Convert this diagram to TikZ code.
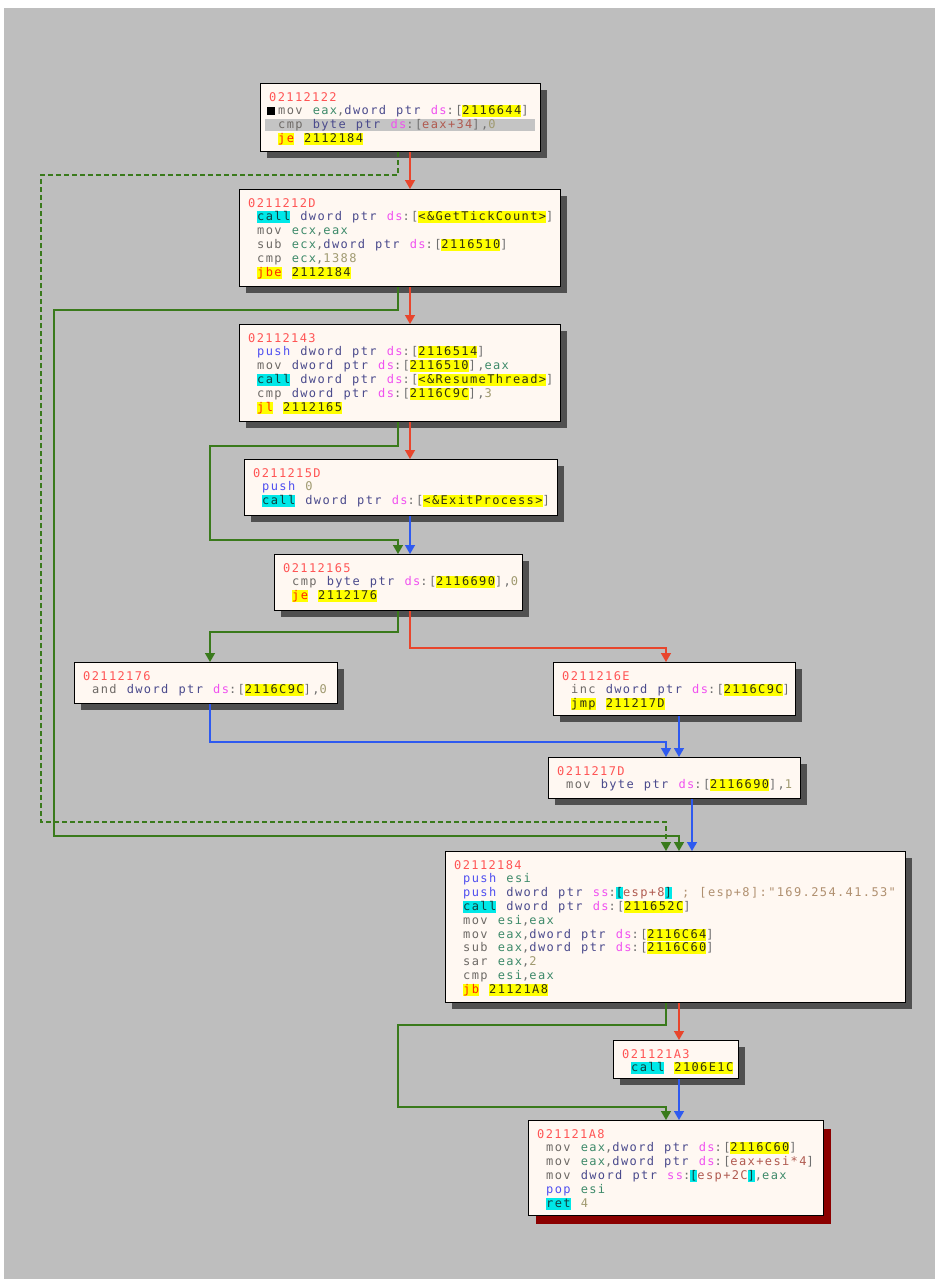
\documentclass[tikz,border=0pt]{standalone}
\usepackage{fontspec}
\usetikzlibrary{arrows.meta,shadows}
\newfontfamily\codefont{DejaVu Sans Mono}[LetterSpace=11.5,WordSpace=1.18]
\definecolor{bg}{HTML}{BEBEBE}
\definecolor{boxfill}{HTML}{FFF8F2}
\definecolor{shadowgray}{HTML}{505050}
\definecolor{shadowred}{HTML}{8B0000}
\definecolor{eRed}{HTML}{E8452C}
\definecolor{eGreen}{HTML}{3A7A1C}
\definecolor{eBlue}{HTML}{2E5AF0}
\definecolor{addr}{HTML}{FF5555}
\definecolor{mn}{HTML}{6E6A66}
\definecolor{pu}{HTML}{5050F0}
\definecolor{rg}{HTML}{3E8A6A}
\definecolor{dp}{HTML}{4A4A8C}
\definecolor{sg}{HTML}{F050F0}
\definecolor{nm}{HTML}{A09A70}
\definecolor{pn}{HTML}{707070}
\definecolor{hx}{HTML}{303010}
\definecolor{yl}{HTML}{FFFF00}
\definecolor{cy}{HTML}{00E8E8}
\definecolor{jr}{HTML}{FF2800}
\definecolor{ct}{HTML}{104040}
\definecolor{me}{HTML}{B05A50}
\definecolor{cm}{HTML}{B09070}
\definecolor{sel}{HTML}{C4C4C4}
\newcommand\zbox[2]{{\setlength{\fboxsep}{0pt}\colorbox{#1}{\rule[-2.5pt]{0pt}{12pt}#2}}}
\newcommand\zA[1]{\textcolor{addr}{#1}}
\newcommand\zM[1]{\textcolor{mn}{#1}}
\newcommand\zP[1]{\textcolor{pu}{#1}}
\newcommand\zR[1]{\textcolor{rg}{#1}}
\newcommand\zD[1]{\textcolor{dp}{#1}}
\newcommand\zS[1]{\textcolor{sg}{#1}}
\newcommand\zN[1]{\textcolor{nm}{#1}}
\newcommand\zB[1]{\textcolor{pn}{#1}}
\newcommand\zE[1]{\textcolor{me}{#1}}
\newcommand\zT[1]{\textcolor{cm}{#1}}
\newcommand\zY[1]{\zbox{yl}{\textcolor{hx}{#1}}}
\newcommand\zJ[1]{\zbox{yl}{\textcolor{jr}{#1}}}
\newcommand\zC[1]{\zbox{cy}{\textcolor{ct}{#1}}}
\newcommand\zline[4]{\node[txt] (#1) at (#2,#3) {#4};}
\tikzset{
  blk/.style={draw=black, line width=1.3pt, fill=boxfill, rectangle, inner sep=0pt, anchor=north west,
    drop shadow={shadow xshift=6pt, shadow yshift=-6pt, fill=shadowgray, opacity=1}},
  blkred/.style={draw=black, line width=1.3pt, fill=boxfill, rectangle, inner sep=0pt, anchor=north west,
    drop shadow={shadow xshift=7pt, shadow yshift=-8pt, fill=shadowred, opacity=1}},
  txt/.style={anchor=base west, inner sep=0pt, font=\codefont\fontsize{12pt}{13.8pt}\selectfont},
  conn/.style={line width=1.4pt, -{Triangle[width=10pt,length=9pt]}},
}
\begin{document}
\begin{tikzpicture}[x=1pt,y=-1pt]
\useasboundingbox (0,0) rectangle (938,1280);
\fill[white] (0,0) rectangle (938,1280);
\fill[bg] (4,8) rectangle (935,1279);
% column coordinates
\coordinate (c41) at (41,0);
\coordinate (c54) at (54,0);
\coordinate (c210) at (210,0);
\coordinate (c398) at (398,0);
\coordinate (c410) at (410,0);
\coordinate (c666) at (666,0);
\coordinate (c679) at (679,0);
\coordinate (c692) at (692,0);
% blocks
\node[blk, minimum width=280pt, minimum height=68pt] (b1) at (260,83) {};
\node[blk, minimum width=321pt, minimum height=97pt] (b2) at (239,189) {};
\node[blk, minimum width=321pt, minimum height=97pt] (b3) at (239,324) {};
\node[blk, minimum width=313pt, minimum height=56pt] (b4) at (244,459) {};
\node[blk, minimum width=248pt, minimum height=56pt] (b5) at (274,554) {};
\node[blk, minimum width=263pt, minimum height=41pt] (b6) at (74,662) {};
\node[blk, minimum width=242pt, minimum height=53pt] (b7) at (553,662) {};
\node[blk, minimum width=252pt, minimum height=41pt] (b8) at (548,757) {};
\node[blk, minimum width=460pt, minimum height=151pt] (b9) at (445,851) {};
\node[blk, minimum width=125pt, minimum height=38pt] (b10) at (613,1040) {};
\node[blkred, minimum width=295pt, minimum height=95pt] (b11) at (528,1120) {};
% selection in block 1
\fill[sel] (265,119) rectangle (535,131);
\fill[black] (267,107) rectangle (275,115);
% block 1
\zline{t1a}{269}{101}{\zA{02112122}}
\zline{t1b}{278}{114.8}{\zM{mov} \zR{eax}\zB{,}\zD{dword ptr} \zS{ds}\zB{:[}\zY{2116644}\zB{]}}
\zline{t1c}{278}{128.6}{\zM{cmp} \zD{byte ptr} \zS{ds}\zB{:[}\zE{eax+34}\zB{],}\zN{0}}
\zline{t1d}{278}{142.4}{\zJ{je} \zY{2112184}}
% block 2
\zline{t2a}{248}{207}{\zA{0211212D}}
\zline{t2b}{257}{220.8}{\zC{call} \zD{dword ptr} \zS{ds}\zB{:[}\zY{<\&GetTickCount>}\zB{]}}
\zline{t2c}{257}{234.6}{\zM{mov} \zR{ecx}\zB{,}\zR{eax}}
\zline{t2d}{257}{248.4}{\zM{sub} \zR{ecx}\zB{,}\zD{dword ptr} \zS{ds}\zB{:[}\zY{2116510}\zB{]}}
\zline{t2e}{257}{262.2}{\zM{cmp} \zR{ecx}\zB{,}\zN{1388}}
\zline{t2f}{257}{276}{\zJ{jbe} \zY{2112184}}
% block 3
\zline{t3a}{248}{342}{\zA{02112143}}
\zline{t3b}{257}{355.8}{\zP{push} \zD{dword ptr} \zS{ds}\zB{:[}\zY{2116514}\zB{]}}
\zline{t3c}{257}{369.6}{\zM{mov} \zD{dword ptr} \zS{ds}\zB{:[}\zY{2116510}\zB{],}\zR{eax}}
\zline{t3d}{257}{383.4}{\zC{call} \zD{dword ptr} \zS{ds}\zB{:[}\zY{<\&ResumeThread>}\zB{]}}
\zline{t3e}{257}{397.2}{\zM{cmp} \zD{dword ptr} \zS{ds}\zB{:[}\zY{2116C9C}\zB{],}\zN{3}}
\zline{t3f}{257}{411}{\zJ{jl} \zY{2112165}}
% block 4
\zline{t4a}{253}{477}{\zA{0211215D}}
\zline{t4b}{262}{490.8}{\zP{push} \zN{0}}
\zline{t4c}{262}{504.6}{\zC{call} \zD{dword ptr} \zS{ds}\zB{:[}\zY{<\&ExitProcess>}\zB{]}}
% block 5
\zline{t5a}{283}{572}{\zA{02112165}}
\zline{t5b}{292}{585.8}{\zM{cmp} \zD{byte ptr} \zS{ds}\zB{:[}\zY{2116690}\zB{],}\zN{0}}
\zline{t5c}{292}{599.6}{\zJ{je} \zY{2112176}}
% block 6
\zline{t6a}{83}{680}{\zA{02112176}}
\zline{t6b}{92}{693.8}{\zM{and} \zD{dword ptr} \zS{ds}\zB{:[}\zY{2116C9C}\zB{],}\zN{0}}
% block 7
\zline{t7a}{562}{680}{\zA{0211216E}}
\zline{t7b}{571}{693.8}{\zM{inc} \zD{dword ptr} \zS{ds}\zB{:[}\zY{2116C9C}\zB{]}}
\zline{t7c}{571}{707.6}{\zY{jmp} \zY{211217D}}
% block 8
\zline{t8a}{557}{775}{\zA{0211217D}}
\zline{t8b}{566}{788.8}{\zM{mov} \zD{byte ptr} \zS{ds}\zB{:[}\zY{2116690}\zB{],}\zN{1}}
% block 9
\zline{t9a}{454}{869}{\zA{02112184}}
\zline{t9b}{463}{882.8}{\zP{push} \zR{esi}}
\zline{t9c}{463}{896.6}{\zP{push} \zD{dword ptr} \zS{ss}\zB{:}\zC{[}\zE{esp+8}\zC{]} \zT{; [esp+8]:"169.254.41.53"}}
\zline{t9d}{463}{910.4}{\zC{call} \zD{dword ptr} \zS{ds}\zB{:[}\zY{211652C}\zB{]}}
\zline{t9e}{463}{924.2}{\zM{mov} \zR{esi}\zB{,}\zR{eax}}
\zline{t9f}{463}{938}{\zM{mov} \zR{eax}\zB{,}\zD{dword ptr} \zS{ds}\zB{:[}\zY{2116C64}\zB{]}}
\zline{t9g}{463}{951.8}{\zM{sub} \zR{eax}\zB{,}\zD{dword ptr} \zS{ds}\zB{:[}\zY{2116C60}\zB{]}}
\zline{t9h}{463}{965.6}{\zM{sar} \zR{eax}\zB{,}\zN{2}}
\zline{t9i}{463}{979.4}{\zM{cmp} \zR{esi}\zB{,}\zR{eax}}
\zline{t9j}{463}{993.2}{\zJ{jb} \zY{21121A8}}
% block 10
\zline{t10a}{622}{1058}{\zA{021121A3}}
\zline{t10b}{631}{1071.8}{\zC{call} \zY{2106E1C}}
% block 11
\zline{t11a}{537}{1138}{\zA{021121A8}}
\zline{t11b}{546}{1151.8}{\zM{mov} \zR{eax}\zB{,}\zD{dword ptr} \zS{ds}\zB{:[}\zY{2116C60}\zB{]}}
\zline{t11c}{546}{1165.6}{\zM{mov} \zR{eax}\zB{,}\zD{dword ptr} \zS{ds}\zB{:[}\zE{eax+esi*4}\zB{]}}
\zline{t11d}{546}{1179.4}{\zM{mov} \zD{dword ptr} \zS{ss}\zB{:}\zC{[}\zE{esp+2C}\zC{]}\zB{,}\zR{eax}}
\zline{t11e}{546}{1193.2}{\zP{pop} \zR{esi}}
\zline{t11f}{546}{1207}{\zC{ret} \zN{4}}
% connectors
\draw[conn, eRed] (b1.south -| c410) -- (b2.north -| c410);
\draw[conn, eGreen, dash pattern=on 5pt off 3pt] (b1.south -| c398) |- (41,175) |- (666,822) -- (b9.north -| c666);
\draw[conn, eRed] (b2.south -| c410) -- (b3.north -| c410);
\draw[conn, eGreen] (b2.south -| c398) |- (54,310) |- (679,836) -- (b9.north -| c679);
\draw[conn, eRed] (b3.south -| c410) -- (b4.north -| c410);
\draw[conn, eGreen] (b3.south -| c398) |- (210,446) |- (398,540) -- (b5.north -| c398);
\draw[conn, eBlue] (b4.south -| c410) -- (b5.north -| c410);
\draw[conn, eGreen] (b5.south -| c398) |- (210,632) -- (b6.north -| c210);
\draw[conn, eRed] (b5.south -| c410) |- (666,648) -- (b7.north -| c666);
\draw[conn, eBlue] (b6.south -| c210) |- (666,742) -- (b8.north -| c666);
\draw[conn, eBlue] (b7.south -| c679) -- (b8.north -| c679);
\draw[conn, eBlue] (b8.south -| c692) -- (b9.north -| c692);
\draw[conn, eRed] (b9.south -| c679) -- (b10.north -| c679);
\draw[conn, eGreen] (b9.south -| c666) |- (398,1025) |- (666,1107) -- (b11.north -| c666);
\draw[conn, eBlue] (b10.south -| c679) -- (b11.north -| c679);
\end{tikzpicture}
\end{document}
